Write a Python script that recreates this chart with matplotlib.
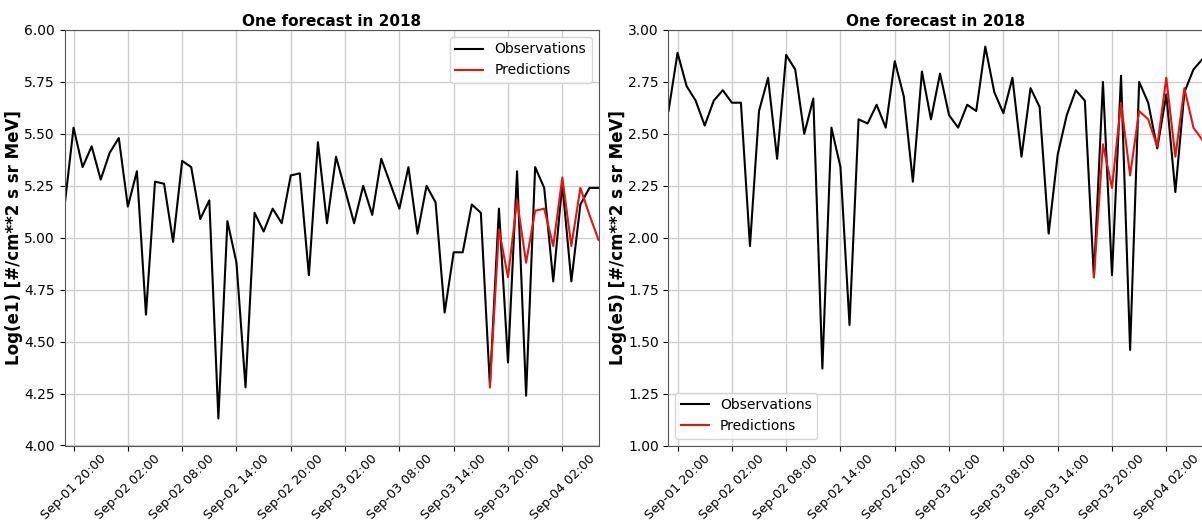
import matplotlib
matplotlib.use('Agg')
import matplotlib.pyplot as plt
import matplotlib.dates as mdates
import pandas as pd

# hourly timestamps, Sep-01 19:00 .. Sep-04 06:00
times = pd.date_range('2018-09-01 19:00', periods=60, freq='h')

e1_obs = [5.15, 5.53, 5.34, 5.44, 5.28, 5.41, 5.48, 5.15, 5.32, 4.63,
          5.27, 5.26, 4.98, 5.37, 5.34, 5.09, 5.18, 4.13, 5.08, 4.88,
          4.28, 5.12, 5.03, 5.14, 5.07, 5.30, 5.31, 4.82, 5.46, 5.07,
          5.39, 5.23, 5.07, 5.25, 5.11, 5.38, 5.26, 5.14, 5.34, 5.02,
          5.25, 5.17, 4.64, 4.93, 4.93, 5.16, 5.12, 4.29, 5.14, 4.40,
          5.32, 4.24, 5.34, 5.24, 4.79, 5.26, 4.79, 5.16, 5.24, 5.24]
e1_pred = [4.28, 5.04, 4.81, 5.18, 4.88, 5.13, 5.14, 4.96, 5.29, 4.96,
           5.24, 5.11, 4.99]

e5_obs = [2.61, 2.89, 2.73, 2.66, 2.54, 2.66, 2.71, 2.65, 2.65, 1.96,
          2.61, 2.77, 2.38, 2.88, 2.81, 2.50, 2.67, 1.37, 2.53, 2.34,
          1.58, 2.57, 2.55, 2.64, 2.53, 2.85, 2.68, 2.27, 2.80, 2.57,
          2.79, 2.59, 2.53, 2.64, 2.61, 2.92, 2.70, 2.60, 2.77, 2.39,
          2.72, 2.63, 2.02, 2.40, 2.59, 2.71, 2.66, 1.81, 2.75, 1.82,
          2.78, 1.46, 2.75, 2.65, 2.43, 2.69, 2.22, 2.70, 2.81, 2.86]
e5_pred = [1.81, 2.45, 2.24, 2.65, 2.30, 2.61, 2.57, 2.44, 2.77, 2.39,
           2.72, 2.53, 2.47]

pred_start = 47

fig = plt.figure(figsize=(12.02, 5.22), dpi=100)
W, H = 1202.0, 522.0
ax1 = fig.add_axes([64.5 / W, 76.5 / H, 534 / W, 415.5 / H])
ax2 = fig.add_axes([668.5 / W, 76.5 / H, 534 / W, 415.5 / H])


def draw(ax, obs, pred, ylabel, ylim, legend_loc):
    ax.plot(times, obs, color='k', lw=1.5, label='Observations')
    ax.plot(times[pred_start:], pred, color='#e8140f', lw=1.5, label='Predictions')
    ax.set_xlim(times[0], times[-1])
    ax.set_ylim(*ylim)
    ax.set_yticks([ylim[0] + 0.25 * i for i in range(9)])
    ax.yaxis.set_major_formatter(plt.FormatStrFormatter('%.2f'))
    ax.xaxis.set_major_locator(mdates.HourLocator(byhour=[2, 8, 14, 20]))
    ax.xaxis.set_major_formatter(mdates.DateFormatter('%b-%d %H:%M'))
    ax.tick_params(axis='y', labelsize=10)
    ax.tick_params(axis='x', labelsize=9.2, pad=1.5)
    for lab in ax.get_xticklabels():
        lab.set_rotation(45)
    ax.grid(True, color='#cfcfcf', linewidth=1)
    ax.set_axisbelow(True)
    for s in ax.spines.values():
        s.set_color('#555555')
    ax.set_title('One forecast in 2018', fontsize=11, fontweight='bold', pad=3)
    ax.set_ylabel(ylabel, fontsize=12, fontweight='bold', labelpad=1)
    ax.legend(loc=legend_loc, fontsize=10)


draw(ax1, e1_obs, e1_pred, 'Log(e1) [#/cm**2 s sr MeV]', (4.0, 6.0), 'upper right')
draw(ax2, e5_obs, e5_pred, 'Log(e5) [#/cm**2 s sr MeV]', (1.0, 3.0), 'lower left')

fig.savefig('out.png', dpi=100)
